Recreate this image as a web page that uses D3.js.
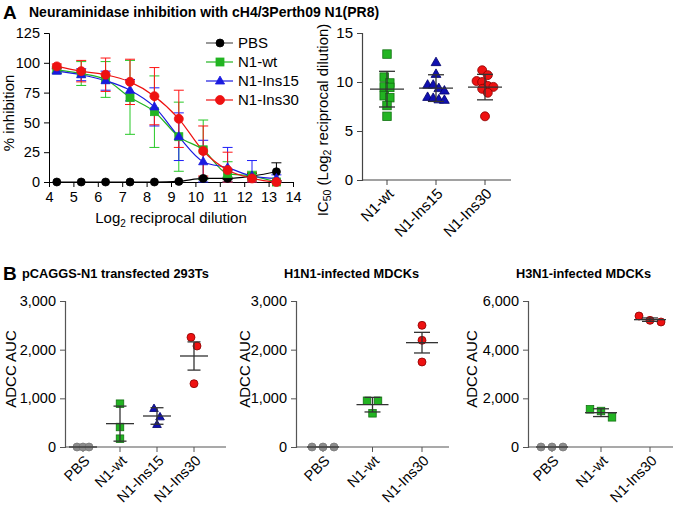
<!DOCTYPE html>
<html><head><meta charset="utf-8">
<script src="https://cdn.jsdelivr.net/npm/d3@7"></script>
<style>
body{margin:0;background:#fff}
text{font-family:"Liberation Sans",Arial,Helvetica,sans-serif;fill:#000}
</style>
</head><body><svg id="c" width="675" height="508"></svg>
<script>
// ---------- DATA ----------
const panelATitle = "Neuraminidase inhibition with cH4/3Perth09 N1(PR8)";
const dilution = [4.32,5.32,6.32,7.32,8.32,9.32,10.32,11.32,12.32,13.32];
const seriesNames = ["PBS","N1-wt","N1-Ins15","N1-Ins30"];
const pbsInh   = [0,0,0,0,0,0.5,3,3,5,8.6];
const pbsErr   = [0,0,0,0,0,0,1,1,2,7.5];
const wtInh    = [94,91,86,71,59,38,27,7,5,0];
const wtErr    = [2,10,15,31,30,29,25,10,4,1];
const ins15Inh = [93,90,85,77,63,38,17,12,5,3];
const ins15Err = [2,5,8,9,16,20,18,17,13,3];
const ins30Inh = [97,93,90,84,72,53,26,10,3,0];
const ins30Err = [2,9,14,19,24,24,21,15,5,1];
const xTicksA = [4,5,6,7,8,9,10,11,12,13,14];
const yTicksA = [0,25,50,75,100,125];

const ic50Cats  = ["N1-wt","N1-Ins15","N1-Ins30"];
const ic50Wt    = [12.85,10.5,9.9,9.5,9.45,8.6,8.4,7.6,6.5];
const ic50Ins15 = [12.0,10.8,9.7,9.7,9.35,9.1,8.45,8.35,8.2,8.15];
const ic50Ins30 = [11.2,10.7,10.1,10.0,9.6,9.5,9.3,8.9,6.5];
const ic50Mean  = [9.27,9.38,9.48];
const ic50Sd    = [1.82,1.36,1.3];
const yTicksIC  = [0,5,10,15];

const b1Title = "pCAGGS-N1 transfected 293Ts";
const b1Cats  = ["PBS","N1-wt","N1-Ins15","N1-Ins30"];
const b1PBS = [0,0,0], b1Wt = [890,411,171], b1Ins15 = [788,616,459], b1Ins30 = [2253,2075,1301];
const b1Mean = [0,480,637,1870], b1Err = [0,360,170,290];
const b1Ticks = [0,1000,2000,3000];

const b2Title = "H1N1-infected MDCKs";
const b2Cats  = ["PBS","N1-wt","N1-Ins30"];
const b2PBS = [0,0,0], b2Wt = [950,950,692], b2Ins30 = [2500,2192,1747];
const b2Mean = [0,870,2144], b2Err = [0,150,212];
const b2Ticks = [0,1000,2000,3000];

const b3Title = "H3N1-infected MDCKs";
const b3Cats  = ["PBS","N1-wt","N1-Ins30"];
const b3PBS = [0,0,0], b3Wt = [1548,1479,1219], b3Ins30 = [5384,5137,5205];
const b3Mean = [0,1411,5233], b3Err = [0,160,70];
const b3Ticks = [0,2000,4000,6000];

// ---------- STYLE ----------
const COL = {
  PBS:{fill:"#000",stroke:"#000",line:"#000",shape:"circle"},
  "N1-wt":{fill:"#22b422",stroke:"#137313",line:"#22b422",shape:"square"},
  "N1-Ins15":{fill:"#1010b0",stroke:"#00006a",line:"#1a1ae0",shape:"triangle"},
  "N1-Ins30":{fill:"#ee1111",stroke:"#8a0000",line:"#ee1111",shape:"circle"},
  PBSgrey:{fill:"#8c8c8c",stroke:"#7a7a7a",shape:"circle"}
};
const svg = d3.select("#c");

function marker(g, shape, x, y, size, fill, stroke){
  if(shape==="circle") g.append("circle").attr("cx",x).attr("cy",y).attr("r",size/2).attr("fill",fill).attr("stroke",stroke).attr("stroke-width",0.8);
  else if(shape==="square") g.append("rect").attr("x",x-size/2).attr("y",y-size/2).attr("width",size).attr("height",size).attr("fill",fill).attr("stroke",stroke).attr("stroke-width",0.8);
  else {
    const s=size*1.15, h=s*0.87;
    g.append("path").attr("d",`M${x},${y-h*0.62}L${x+s/2},${y+h*0.38}L${x-s/2},${y+h*0.38}Z`).attr("fill",fill).attr("stroke",stroke).attr("stroke-width",0.8);
  }
}

// ---------- PANEL A LEFT ----------
svg.append("text").attr("x",3).attr("y",19).attr("font-size",19).attr("font-weight","bold").text("A");
svg.append("text").attr("x",29).attr("y",17).attr("font-size",14).attr("font-weight","bold").text(panelATitle);

const xA = d3.scaleLinear().domain([4,14]).range([49,293]);
const yA = d3.scaleLinear().domain([0,125]).range([182,33]);
const gA = svg.append("g");
gA.append("g").attr("transform","translate(0,182)")
  .call(d3.axisBottom(xA).tickValues(xTicksA).tickSize(5).tickFormat(d3.format("d")))
  .call(g=>{g.selectAll("text").attr("font-size",14.5).attr("dy","0.85em");g.select(".domain").attr("stroke","#000");});
gA.append("g").attr("transform","translate(49,0)")
  .call(d3.axisLeft(yA).tickValues(yTicksA).tickSize(5))
  .call(g=>{g.selectAll("text").attr("font-size",14.5).attr("dx","-1");});
gA.selectAll(".tick line").attr("stroke","#000");
gA.selectAll(".domain").attr("stroke","#000");

const lab = gA.append("text").attr("x",171).attr("y",223).attr("text-anchor","middle").attr("font-size",15);
lab.append("tspan").text("Log");
lab.append("tspan").attr("font-size",10).attr("dy",4).text("2");
lab.append("tspan").attr("dy",-4).text(" reciprocal dilution");
gA.append("text").attr("transform","translate(14,113) rotate(-90)").attr("text-anchor","middle").attr("font-size",15).text("% inhibition");

const seriesA = [
  {name:"PBS",v:pbsInh,e:pbsErr,size:8},
  {name:"N1-wt",v:wtInh,e:wtErr,size:8},
  {name:"N1-Ins15",v:ins15Inh,e:ins15Err,size:8},
  {name:"N1-Ins30",v:ins30Inh,e:ins30Err,size:9}
];
const line = d3.line().x(d=>xA(d[0])).y(d=>yA(d[1])).curve(d3.curveMonotoneX);
seriesA.forEach(s=>{
  const c=COL[s.name];
  const g=gA.append("g");
  dilution.forEach((x,i)=>{
    if(s.e[i]<=0.5) return;
    const lo=Math.max(0,s.v[i]-s.e[i]), hi=s.v[i]+s.e[i];
    const light = d3.color(c.line).brighter(0.3);
    g.append("line").attr("x1",xA(x)).attr("x2",xA(x)).attr("y1",yA(lo)).attr("y2",yA(hi)).attr("stroke",light).attr("stroke-width",1);
    [lo,hi].forEach(v=>g.append("line").attr("x1",xA(x)-5).attr("x2",xA(x)+5).attr("y1",yA(v)).attr("y2",yA(v)).attr("stroke",light).attr("stroke-width",1));
  });
});
seriesA.forEach(s=>{
  const c=COL[s.name];
  gA.append("path").datum(dilution.map((x,i)=>[x,s.v[i]])).attr("d",line).attr("fill","none").attr("stroke",c.line).attr("stroke-width",1.2);
});
seriesA.forEach(s=>{
  const c=COL[s.name];
  dilution.forEach((x,i)=>marker(gA,c.shape,xA(x),yA(s.v[i]),s.size,c.line,c.line));
});
// legend
seriesA.forEach((s,i)=>{
  const c=COL[s.name], y=43+i*19;
  gA.append("line").attr("x1",206).attr("x2",233).attr("y1",y).attr("y2",y).attr("stroke",s.name==="PBS"?"#555":c.line).attr("stroke-width",1.2);
  marker(gA,c.shape,220,y,s.size,c.line,c.line);
  gA.append("text").attr("x",238).attr("y",y+5).attr("font-size",15).text(s.name);
});

// ---------- helpers for dot plots ----------
function rowOffsets(vals, yScale, tol, step){
  const idx = vals.map((v,i)=>i).sort((a,b)=>vals[b]-vals[a]);
  const off = new Array(vals.length).fill(0);
  let i=0;
  while(i<idx.length){
    const y0=yScale(vals[idx[i]]); let row=[idx[i]]; let j=i+1;
    while(j<idx.length && Math.abs(yScale(vals[idx[j]])-y0)<tol){row.push(idx[j]);j++;}
    row.forEach((k,r)=>off[k]=(r-(row.length-1)/2)*step);
    i=j;
  }
  return off;
}
function dotPlot(opt){
  const g=svg.append("g");
  const y=d3.scaleLinear().domain(opt.yDomain).range([opt.y0,opt.y1]);
  const x=d3.scalePoint().domain(opt.cats).range(opt.xr);
  g.append("line").attr("x1",opt.ax).attr("x2",opt.axEnd).attr("y1",opt.y0).attr("y2",opt.y0).attr("stroke",opt.axisCol).attr("stroke-width",1.2);
  g.append("g").attr("transform",`translate(${opt.ax},0)`).call(d3.axisLeft(y).tickValues(opt.ticks).tickSize(5).tickFormat(opt.fmt))
    .call(a=>{a.select(".domain").attr("stroke",opt.axisCol).attr("stroke-width",1.2);a.selectAll(".tick line").attr("stroke",opt.axisCol);a.selectAll("text").attr("font-size",opt.fs).attr("dx","-1");});
  opt.cats.forEach(c=>{
    g.append("line").attr("x1",x(c)).attr("x2",x(c)).attr("y1",opt.y0).attr("y2",opt.y0+5).attr("stroke",opt.axisCol);
    g.append("text").attr("transform",`translate(${x(c)+4},${opt.y0+11}) rotate(-45)`).attr("text-anchor","end").attr("dy","0.35em").attr("font-size",opt.fs).text(c);
  });
  const yl=g.append("text").attr("transform",`translate(${opt.ylx},${opt.yly}) rotate(-90)`).attr("text-anchor","middle").attr("font-size",opt.ylfs);
  opt.ylabel(yl);
  opt.groups.forEach((grp,gi)=>{
    const off=rowOffsets(grp.vals,y,opt.tol,opt.step);
    grp.vals.forEach((v,i)=>marker(g,grp.style.shape,x(opt.cats[gi])+off[i],y(v),grp.size,grp.style.fill,grp.style.stroke));
  });
  opt.cats.forEach((c,i)=>{
    const cx=x(c), m=opt.mean[i], e=opt.err[i];
    g.append("line").attr("x1",cx-opt.mw).attr("x2",cx+opt.mw).attr("y1",y(m)).attr("y2",y(m)).attr("stroke","#333").attr("stroke-width",1.3);
    if(e>0){
      g.append("line").attr("x1",cx).attr("x2",cx).attr("y1",y(m-e)).attr("y2",y(m+e)).attr("stroke","#333").attr("stroke-width",1.3);
      [m-e,m+e].forEach(v=>g.append("line").attr("x1",cx-opt.cw).attr("x2",cx+opt.cw).attr("y1",y(v)).attr("y2",y(v)).attr("stroke","#333").attr("stroke-width",1.3));
    }
  });
  return g;
}

// ---------- PANEL A RIGHT ----------
dotPlot({
  cats:ic50Cats, yDomain:[0,15], y0:180, y1:33, xr:[387,485], ax:362, axEnd:511, axisCol:"#444",
  ticks:yTicksIC, fmt:d3.format("d"), fs:15, tol:7, step:5.6, mw:17, cw:8,
  mean:ic50Mean, err:ic50Sd,
  groups:[
    {vals:ic50Wt,style:COL["N1-wt"],size:8.5},
    {vals:ic50Ins15,style:COL["N1-Ins15"],size:8.5},
    {vals:ic50Ins30,style:COL["N1-Ins30"],size:9}
  ],
  ylx:328, yly:120, ylfs:15,
  ylabel:t=>{t.append("tspan").text("IC");t.append("tspan").attr("font-size",10.5).attr("dy",3).text("50");
    t.append("tspan").attr("dy",-3).text(" (Log");t.append("tspan").attr("font-size",10.5).attr("dy",3).text("2");
    t.append("tspan").attr("dy",-3).text(" reciprocal dilution)");}
});

// ---------- PANEL B ----------
svg.append("text").attr("x",3).attr("y",280).attr("font-size",19).attr("font-weight","bold").text("B");
svg.append("text").attr("x",22).attr("y",278).attr("font-size",12.8).attr("font-weight","bold").text(b1Title);
svg.append("text").attr("x",284).attr("y",278).attr("font-size",12.8).attr("font-weight","bold").text(b2Title);
svg.append("text").attr("x",516).attr("y",278).attr("font-size",12.8).attr("font-weight","bold").text(b3Title);

const fmtK = d3.format(",");
const adcc = t=>t.text("ADCC AUC");
dotPlot({
  cats:b1Cats, yDomain:[0,3000], y0:447, y1:301, xr:[83,194], ax:65, axEnd:226, axisCol:"#555",
  ticks:b1Ticks, fmt:fmtK, fs:14.5, tol:9, step:6, mw:14, cw:6.5,
  mean:b1Mean, err:b1Err,
  groups:[
    {vals:b1PBS,style:COL.PBSgrey,size:8},
    {vals:b1Wt,style:COL["N1-wt"],size:7.5},
    {vals:b1Ins15,style:COL["N1-Ins15"],size:7.5},
    {vals:b1Ins30,style:COL["N1-Ins30"],size:8}
  ],
  ylx:16, yly:369, ylfs:15, ylabel:adcc
});
dotPlot({
  cats:b2Cats, yDomain:[0,3000], y0:447, y1:301, xr:[323,422], ax:296, axEnd:449, axisCol:"#555",
  ticks:b2Ticks, fmt:fmtK, fs:14.5, tol:9, step:11, mw:16, cw:8,
  mean:b2Mean, err:b2Err,
  groups:[
    {vals:b2PBS,style:COL.PBSgrey,size:8},
    {vals:b2Wt,style:COL["N1-wt"],size:7.5},
    {vals:b2Ins30,style:COL["N1-Ins30"],size:8}
  ],
  ylx:250, yly:369, ylfs:15, ylabel:adcc
});
dotPlot({
  cats:b3Cats, yDomain:[0,6000], y0:447, y1:301, xr:[552,650], ax:528, axEnd:673, axisCol:"#555",
  ticks:b3Ticks, fmt:fmtK, fs:14.5, tol:9, step:11, mw:16, cw:8,
  mean:b3Mean, err:b3Err,
  groups:[
    {vals:b3PBS,style:COL.PBSgrey,size:8},
    {vals:b3Wt,style:COL["N1-wt"],size:7.5},
    {vals:b3Ins30,style:COL["N1-Ins30"],size:8}
  ],
  ylx:477, yly:369, ylfs:15, ylabel:adcc
});
</script></body></html>
